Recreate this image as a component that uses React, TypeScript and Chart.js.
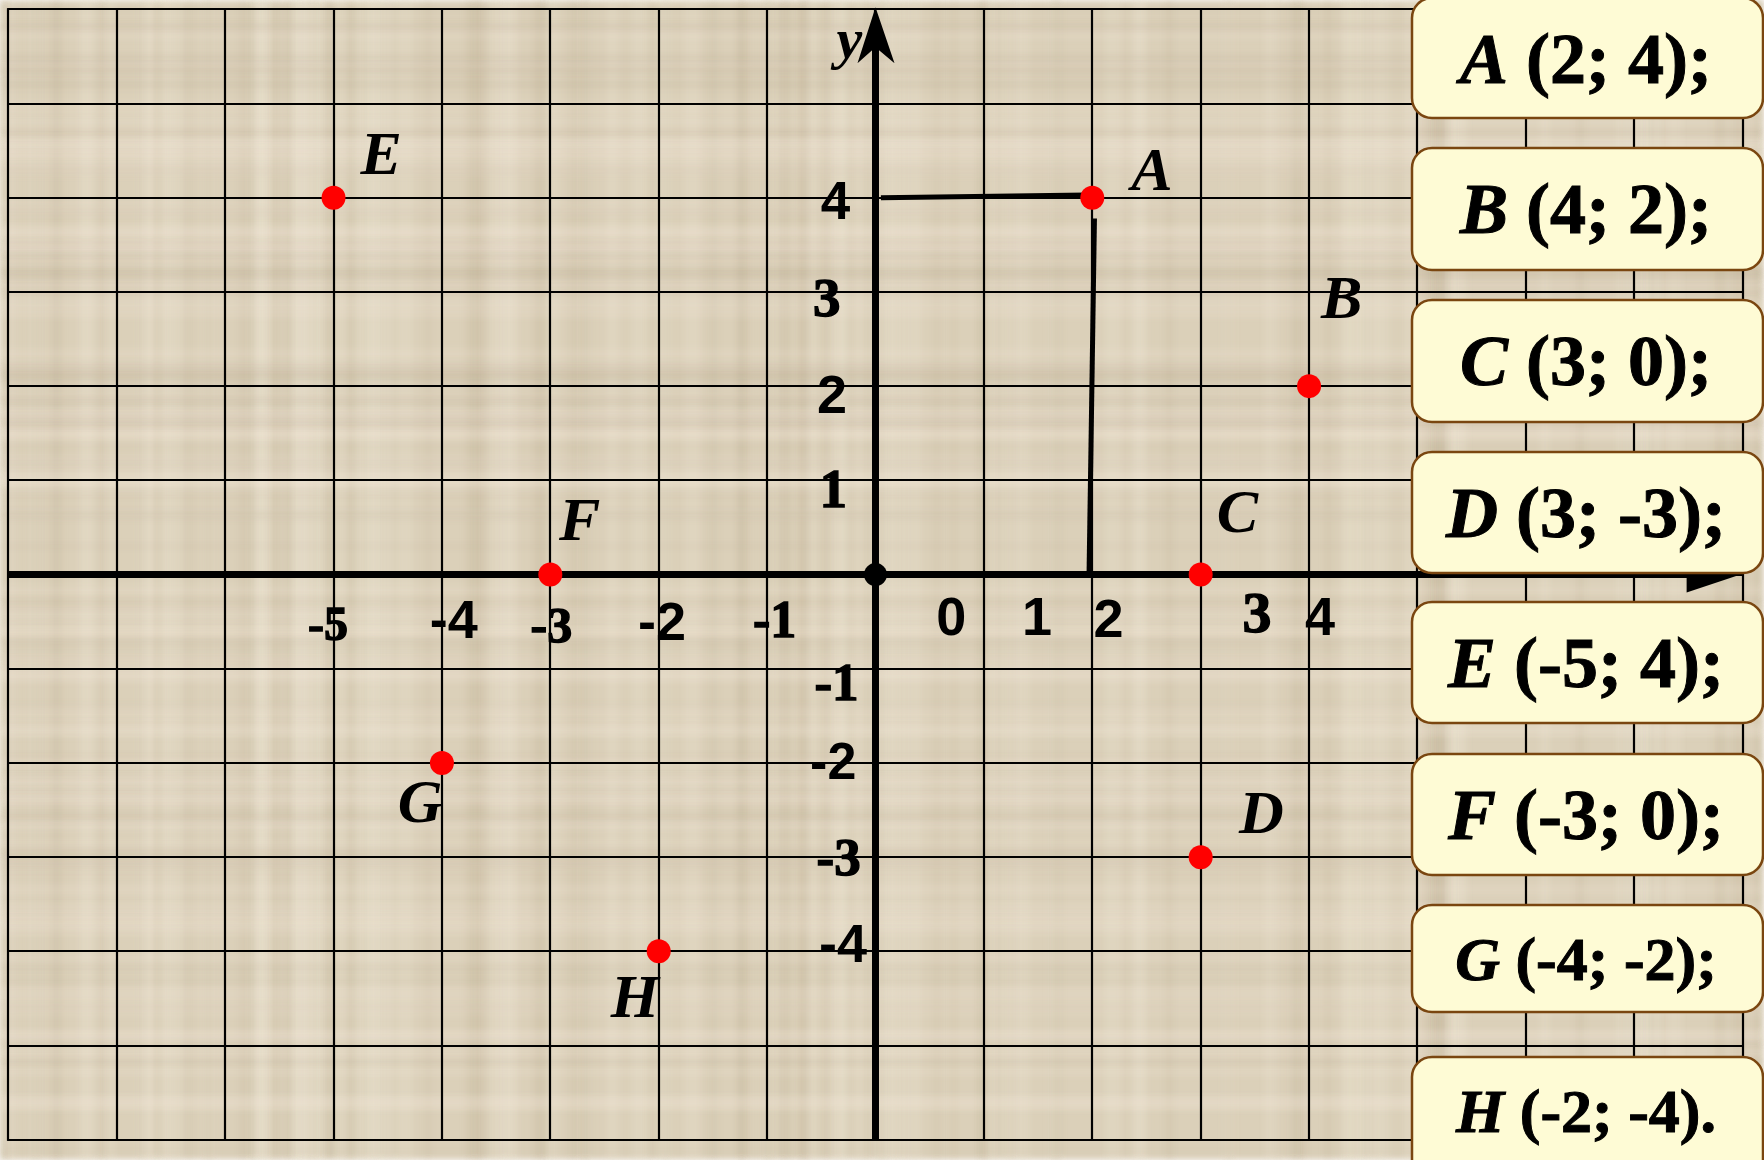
import React, { useEffect, useRef } from "react";
import { Chart, registerables } from "chart.js";

Chart.register(...registerables);

// ---------------- data ----------------
const pointNames = ["A", "B", "C", "D", "E", "F", "G", "H"];
const pointX = [2, 4, 3, 3, -5, -3, -4, -2];
const pointY = [4, 2, 0, -3, 4, 0, -2, -4];
// where each letter sits, relative to its point (data units)
const nameShiftX = [0.55, 0.3, 0.34, 0.56, 0.44, 0.27, -0.2, -0.22];
const nameShiftY = [0.08, 0.72, 0.45, 0.26, 0.25, 0.37, -0.63, -0.7];

// x tick labels (as printed, slightly off their grid lines)
const xTickValues = [-5, -4, -3, -2, -1, 0, 1, 2, 3, 4];
const xTickShift = [-0.05, 0.11, 0.01, 0.03, 0.07, 0.7, 0.49, 0.15, 0.52, 0.1];
const xTickBase = [-0.7, -0.67, -0.72, -0.7, -0.66, -0.64, -0.64, -0.66, -0.61, -0.64];
// y tick labels
const yTickValues = [4, 3, 2, 1, -1, -2, -3, -4];
const yTickX = [-0.37, -0.45, -0.4, -0.39, -0.36, -0.39, -0.34, -0.3];
const yTickShift = [-0.23, -0.26, -0.28, -0.28, -0.33, -0.17, -0.19, -0.11];

// projection lines of A onto the axes
const projHX = [0.05, 1.95];
const projHY = [4.0, 4.03];
const projVX = [2.02, 1.97];
const projVY = [3.78, 0];

// grid extent
const gridXMin = -8;
const gridXMax = 8;
const gridYMin = -6;
const gridYMax = 6;

// ---------------- styles ----------------
const SERIF = "'Liberation Serif', 'Times New Roman', serif";
const SANS = "'Liberation Sans', Arial, sans-serif";
const xTickSize = [48, 54, 50, 54, 52, 54, 54, 54, 58, 54];
const xTickSerif = [true, false, true, false, true, false, false, false, true, false];
const yTickSize = [53, 55, 54, 55, 53, 52, 53, 54];
const yTickSerif = [false, true, false, true, true, false, true, false];

const boxTop = [-2, 148, 300, 452, 602, 754, 905, 1057];
const boxBottom = [118, 270, 422, 573, 723, 875, 1012, 1190];
const boxBaseline = [83, 233, 385, 537, 687, 839, 980, 1132];
const boxFont = [72, 72, 72, 72, 72, 72, 62, 62];

// deterministic paper streaks (decoration only)
function paper(ctx: CanvasRenderingContext2D, w: number, h: number) {
  ctx.fillStyle = "#dbd0b9";
  ctx.fillRect(0, 0, w, h);
  for (let i = 0; i < 140; i++) {
    const t = Math.sin(i * 12.9898) * 43758.5453;
    const f = t - Math.floor(t);
    const t2 = Math.sin(i * 78.233) * 12345.678;
    const f2 = t2 - Math.floor(t2);
    const x = f * w;
    const bw = 3 + f2 * 14;
    ctx.fillStyle = f2 > 0.5 ? "rgba(246,238,222,0.18)" : "rgba(170,155,125,0.12)";
    ctx.fillRect(x, 0, bw, h);
  }
  for (let i = 0; i < 120; i++) {
    const t = Math.sin(i * 39.3468 + 1.7) * 24634.6345;
    const f = t - Math.floor(t);
    const t2 = Math.sin(i * 11.135 + 0.3) * 9876.543;
    const f2 = t2 - Math.floor(t2);
    const y = f * h;
    const bh = 3 + f2 * 12;
    ctx.fillStyle = f2 > 0.5 ? "rgba(246,238,222,0.16)" : "rgba(170,155,125,0.11)";
    ctx.fillRect(0, y, w, bh);
  }
}

const drawPlugin = {
  id: "paperDrawing",
  beforeDatasetsDraw(chart: any) {
    const ctx: CanvasRenderingContext2D = chart.ctx;
    const xs = chart.scales.x;
    const ys = chart.scales.y;
    const X = (v: number) => xs.getPixelForValue(v);
    const Y = (v: number) => ys.getPixelForValue(v);
    ctx.save();
    ctx.filter = "blur(3px)";
    paper(ctx, chart.width, chart.height);
    ctx.filter = "none";

    // grid
    ctx.strokeStyle = "#000";
    ctx.lineWidth = 2.2;
    ctx.beginPath();
    for (let i = gridXMin; i <= gridXMax; i++) {
      const px = Math.round(X(i));
      ctx.moveTo(px, Y(gridYMax) - 1);
      ctx.lineTo(px, Y(gridYMin) + 1);
    }
    for (let j = gridYMin; j <= gridYMax; j++) {
      const py = Math.round(Y(j));
      ctx.moveTo(X(gridXMin) - 1, py);
      ctx.lineTo(X(gridXMax) + 1, py);
    }
    ctx.stroke();

    // axes
    ctx.lineWidth = 7;
    ctx.beginPath();
    ctx.moveTo(X(gridXMin), Y(0));
    ctx.lineTo(X(7.6), Y(0));
    ctx.stroke();
    ctx.beginPath();
    ctx.moveTo(X(0), Y(gridYMin));
    ctx.lineTo(X(0), Y(5.6));
    ctx.stroke();

    // y arrow
    ctx.fillStyle = "#000";
    const ax = X(0);
    const ay = Y(gridYMax) - 2;
    ctx.beginPath();
    ctx.moveTo(ax, ay);
    ctx.lineTo(ax + 19, ay + 56);
    ctx.lineTo(ax, ay + 40);
    ctx.lineTo(ax - 18, ay + 56);
    ctx.closePath();
    ctx.fill();
    // x arrow
    const bx = X(gridXMax) - 2;
    const by = Y(0);
    ctx.beginPath();
    ctx.moveTo(bx, by);
    ctx.lineTo(bx - 54, by - 18);
    ctx.lineTo(bx - 54, by + 18);
    ctx.closePath();
    ctx.fill();

    // "y" axis name
    ctx.font = `italic bold 58px ${SERIF}`;
    ctx.textAlign = "center";
    ctx.textBaseline = "alphabetic";
    ctx.fillText("y", X(-0.24), Y(5.48));
    ctx.restore();
  },
  afterDatasetsDraw(chart: any) {
    const ctx: CanvasRenderingContext2D = chart.ctx;
    const xs = chart.scales.x;
    const ys = chart.scales.y;
    const X = (v: number) => xs.getPixelForValue(v);
    const Y = (v: number) => ys.getPixelForValue(v);
    ctx.save();
    ctx.fillStyle = "#000";
    ctx.strokeStyle = "#000";
    ctx.textAlign = "center";
    ctx.textBaseline = "alphabetic";

    const label = (txt: string, x: number, y: number, font: string, heavy: boolean) => {
      ctx.font = font;
      ctx.fillText(txt, x, y);
      if (heavy) {
        ctx.lineWidth = 1.4;
        ctx.strokeText(txt, x, y);
      }
    };

    // tick labels
    xTickValues.forEach((v, i) => {
      label(String(v), X(v + xTickShift[i]), Y(xTickBase[i]),
        `bold ${xTickSize[i]}px ${xTickSerif[i] ? SERIF : SANS}`, xTickSerif[i]);
    });
    yTickValues.forEach((v, i) => {
      label(String(v), X(yTickX[i]), Y(v + yTickShift[i]),
        `bold ${yTickSize[i]}px ${yTickSerif[i] ? SERIF : SANS}`, yTickSerif[i]);
    });

    // point names
    pointNames.forEach((n, i) => {
      label(n, X(pointX[i] + nameShiftX[i]), Y(pointY[i] + nameShiftY[i]),
        `italic bold 62px ${SERIF}`, false);
    });

    // coordinate boxes
    const left = 1412;
    const right = 1763;
    const cx = 1586;
    pointNames.forEach((n, i) => {
      ctx.beginPath();
      ctx.roundRect(left, boxTop[i], right - left, boxBottom[i] - boxTop[i], 20);
      ctx.fillStyle = "#fefbd5";
      ctx.fill();
      ctx.lineWidth = 2.5;
      ctx.strokeStyle = "#7a4610";
      ctx.stroke();
      const end = i === pointNames.length - 1 ? "." : ";";
      const rest = ` (${pointX[i]}; ${pointY[i]})${end}`;
      const fs = boxFont[i];
      const fItal = `italic bold ${fs}px ${SERIF}`;
      const fBold = `bold ${fs}px ${SERIF}`;
      ctx.font = fItal;
      const w1 = ctx.measureText(n).width;
      ctx.font = fBold;
      const w2 = ctx.measureText(rest).width;
      const start = cx - (w1 + w2) / 2;
      ctx.fillStyle = "#000";
      ctx.strokeStyle = "#000";
      ctx.lineWidth = 1;
      ctx.textAlign = "left";
      ctx.font = fItal;
      ctx.fillText(n, start, boxBaseline[i]);
      ctx.strokeText(n, start, boxBaseline[i]);
      ctx.font = fBold;
      ctx.fillText(rest, start + w1, boxBaseline[i]);
      ctx.strokeText(rest, start + w1, boxBaseline[i]);
    });
    ctx.restore();
  },
};

export default function App() {
  const ref = useRef<HTMLCanvasElement | null>(null);
  useEffect(() => {
    if (!ref.current) return;
    const chart = new Chart(ref.current, {
      type: "scatter",
      data: {
        datasets: [
          {
            label: "origin",
            data: [{ x: 0, y: 0 }],
            pointRadius: 11.5,
            pointBackgroundColor: "#000",
            pointBorderWidth: 0,
            order: 0,
          },
          {
            label: "points",
            data: pointX.map((x, i) => ({ x, y: pointY[i] })),
            pointRadius: 12,
            pointBackgroundColor: "#ff0000",
            pointBorderWidth: 0,
            order: 1,
          },
          {
            label: "projH",
            data: projHX.map((x, i) => ({ x, y: projHY[i] })),
            showLine: true,
            borderColor: "#000",
            borderWidth: 5,
            pointRadius: 0,
            order: 2,
          },
          {
            label: "projV",
            data: projVX.map((x, i) => ({ x, y: projVY[i] })),
            showLine: true,
            borderColor: "#000",
            borderWidth: 5,
            pointRadius: 0,
            order: 2,
          },
        ],
      },
      options: {
        animation: false,
        responsive: false,
        devicePixelRatio: 1,
        events: [],
        layout: { padding: 0, autoPadding: false },
        plugins: {
          legend: { display: false },
          tooltip: { enabled: false },
          title: { display: false },
        },
        scales: {
          x: { type: "linear", min: -8.077, max: 8.197, display: false },
          y: { type: "linear", min: -6.215, max: 6.099, display: false },
        },
      },
      plugins: [drawPlugin],
    });
    return () => chart.destroy();
  }, []);
  return (
    <div style={{ position: "absolute", left: 0, top: 0, width: 1764, height: 1160 }}>
      <canvas ref={ref} width={1764} height={1160} style={{ display: "block" }} />
    </div>
  );
}
